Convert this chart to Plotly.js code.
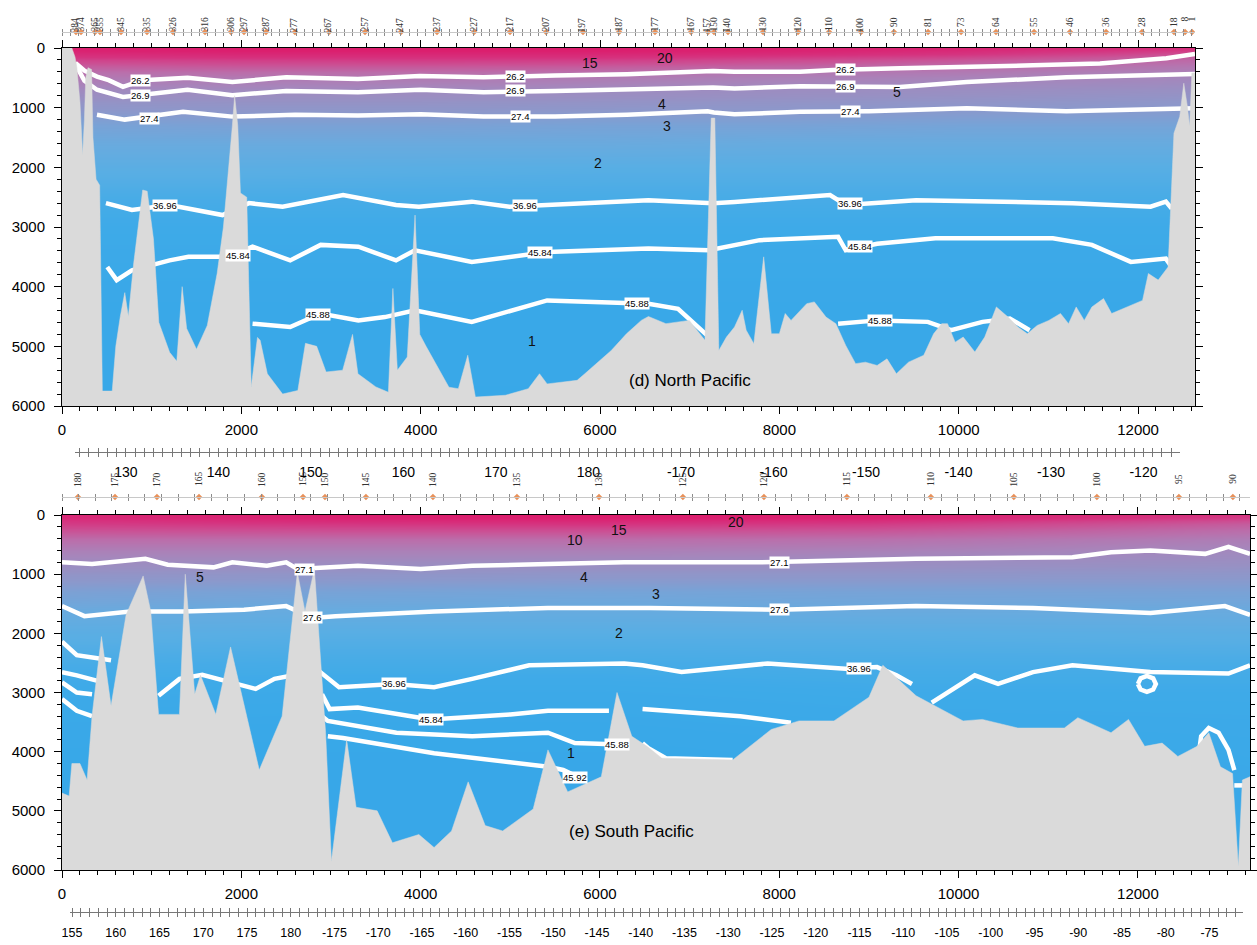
<!DOCTYPE html>
<html><head><meta charset="utf-8">
<script src="https://cdn.plot.ly/plotly-3.0.1.min.js"></script>
<style>html,body{margin:0;padding:0;background:#fff;}#chart{width:1257px;height:945px;}</style>
</head><body><div id="chart"></div>
<script>
// ---------------- DATA ----------------
// North Pacific temperature field (deg C): rows = depth (m), columns = distance (km)
const npDepth = [0, 50, 100, 150, 200, 300, 400, 500, 700, 900, 1100, 1300, 1600, 2000, 2500, 3000, 4000, 6000];
const npTempCols = [0, 2000, 4000, 6000, 8000, 10000, 12635];
const npTemp = [
  [25, 26, 26, 26, 25, 24, 21],
  [24, 25, 25, 25, 24, 22, 18],
  [22, 23, 23, 23, 22, 20, 15],
  [20, 21, 21, 21, 19, 17, 12.5],
  [17, 18, 18.5, 18, 16, 14, 11],
  [13, 14, 14, 13.5, 12, 10.5, 9],
  [10, 10.5, 10.5, 10, 9, 8.5, 7.5],
  [8.5, 8.5, 8.5, 8.2, 7.5, 7, 6.5],
  [6, 6, 6, 5.8, 5.5, 5.3, 5],
  [4.6, 4.7, 4.7, 4.6, 4.5, 4.4, 4.2],
  [3.8, 3.9, 3.9, 3.8, 3.8, 3.7, 3.6],
  [3.1, 3.2, 3.2, 3.1, 3.1, 3.0, 3.0],
  [2.6, 2.6, 2.6, 2.6, 2.5, 2.5, 2.5],
  [2.1, 2.1, 2.05, 2.0, 2.0, 2.0, 2.0],
  [1.7, 1.7, 1.7, 1.7, 1.7, 1.7, 1.7],
  [1.5, 1.5, 1.5, 1.5, 1.5, 1.5, 1.5],
  [1.25, 1.25, 1.25, 1.25, 1.25, 1.25, 1.25],
  [1.1, 1.1, 1.1, 1.1, 1.1, 1.1, 1.1]
];
// South Pacific temperature field
const spDepth = [0, 50, 100, 150, 250, 400, 600, 800, 1000, 1300, 1600, 2000, 2500, 3000, 4000, 6000];
const spTempCols = [0, 3000, 6000, 9000, 13250];
const spTemp = [
  [23, 25, 26, 25, 20],
  [22, 24, 25, 24, 18],
  [20, 22, 22.5, 21, 15],
  [18.5, 19.5, 20, 18.5, 13],
  [15, 15.5, 15.5, 14.5, 10.5],
  [10.5, 10.5, 10.5, 10, 8],
  [7.5, 7.5, 7.5, 7.2, 6.2],
  [5.8, 5.7, 5.6, 5.5, 5.2],
  [4.5, 4.4, 4.3, 4.3, 4.2],
  [3.3, 3.1, 3.0, 3.1, 3.2],
  [2.6, 2.5, 2.5, 2.6, 2.6],
  [2.1, 2.0, 2.0, 2.0, 2.1],
  [1.7, 1.65, 1.65, 1.7, 1.7],
  [1.45, 1.4, 1.4, 1.5, 1.5],
  [1.1, 1.05, 1.05, 1.2, 1.3],
  [0.95, 0.95, 0.95, 1.0, 1.1]
];

// North Pacific bottom topography (km, depth m)
const npBathyKm = [
  0, 110, 145, 165, 200, 230, 250, 265, 290, 330,
  345, 380, 420, 450, 560, 600, 650, 700, 740, 800,
  900, 950, 1020, 1080, 1200, 1280, 1340, 1390, 1500, 1620,
  1730, 1800, 1900, 1925, 1960, 1990, 2060, 2110, 2180, 2210,
  2290, 2460, 2630, 2715, 2840, 2945, 3130, 3240, 3300, 3500,
  3640, 3690, 3740, 3850, 3937, 3990, 4060, 4145, 4315, 4420,
  4525, 4610, 4945, 5200, 5325, 5410, 5745, 5830, 5955, 6125,
  6295, 6460, 6540, 6735, 6995, 7170, 7240, 7280, 7325, 7410,
  7500, 7585, 7630, 7715, 7825, 7910, 8000, 8065, 8130, 8305,
  8390, 8520, 8630, 8740, 8850, 8960, 9090, 9200, 9305, 9440,
  9610, 9720, 9810, 9875, 9960, 10050, 10180, 10290, 10420, 10550,
  10660, 10765, 10875, 11005, 11135, 11225, 11310, 11400, 11485, 11615,
  11705, 11880, 11965, 12050, 12115, 12225, 12335, 12400, 12465, 12510,
  12550, 12575, 12600, 12635];
const npBathyDepth = [
  0, 0, 150, 320, 900, 1800, 1200, 500, 330, 360,
  1500, 2200, 2300, 5750, 5750, 5000, 4500, 4100, 4500, 3600,
  2380, 2400, 3200, 4600, 5100, 5250, 4000, 4700, 5050, 4650,
  3780, 3000, 1300, 800, 1300, 2430, 2500, 5680, 4850, 4900,
  5460, 5800, 5740, 4950, 5000, 5430, 5400, 4800, 5460, 5680,
  5770, 4030, 5400, 5180, 2800, 4800, 5000, 5235, 5685, 5710,
  5150, 5850, 5820, 5710, 5460, 5630, 5570, 5460, 5290, 5070,
  4790, 4565, 4500, 4620, 4565, 4900, 1175, 1175, 5070, 4845,
  4675, 4395, 4730, 4955, 3500, 4790, 4790, 4450, 4565, 4285,
  4255, 4510, 4620, 4985, 5290, 5265, 5320, 5210, 5460, 5265,
  5150, 4790, 4620, 4620, 4930, 4845, 5095, 4845, 4340, 4510,
  4675, 4790, 4650, 4565, 4450, 4620, 4340, 4565, 4340, 4200,
  4450, 4340, 4285, 4230, 3780, 3890, 3670, 1430, 1150, 590,
  980, 1315, 420, 420];

// South Pacific bottom topography
const spBathyKm = [
  0, 80, 110, 200, 280, 335, 440, 547, 715, 905,
  990, 1077, 1310, 1375, 1480, 1545, 1715, 1880, 2200, 2455,
  2625, 2710, 2815, 2940, 3005, 3175, 3280, 3515, 3685, 3980,
  4150, 4345, 4530, 4720, 4915, 5255, 5420, 5640, 6015, 6190,
  6355, 6525, 6690, 7480, 7910, 8220, 8610, 9000, 9155, 9525,
  10050, 10265, 10660, 11180, 11330, 11700, 11895, 12075, 12270, 12445,
  12660, 12790, 12920, 13055, 13120, 13165, 13250];
const spBathyDepth = [
  4700, 4750, 4200, 4200, 4480, 3400, 2055, 3225, 1685, 1030,
  1630, 3370, 3370, 1000, 3030, 2710, 3370, 2230, 4310, 3400,
  970, 1630, 915, 3680, 5850, 3800, 4940, 5000, 5540, 5400,
  5620, 5340, 4510, 5250, 5340, 4970, 3970, 4680, 4425, 3000,
  3740, 3910, 4110, 4140, 3625, 3480, 3480, 3080, 2540, 3055,
  3480, 3455, 3600, 3600, 3425, 3680, 3455, 3910, 3855, 4080,
  3910, 3680, 4255, 4370, 5940, 4480, 4425];

// North Pacific density isolines (km, depth)
const np262Km = [150, 250, 390, 520, 680, 900, 1400, 1900, 2500, 3300, 3990, 4700, 5500, 6300, 7260, 7500, 8230, 8600, 9345, 10090, 10830, 11575, 11945, 12316, 12635];
const np262D  = [250, 380, 480, 540, 650, 540, 500, 570, 490, 520, 470, 490, 460, 440, 385, 400, 400, 370, 340, 320, 290, 260, 220, 170, 100];
const np269Km = [160, 250, 390, 680, 1400, 1900, 2500, 3300, 4000, 4700, 5500, 6300, 7260, 7500, 8230, 9345, 10090, 11200, 11945, 12635];
const np269D  = [300, 550, 700, 820, 700, 790, 720, 740, 700, 740, 720, 690, 660, 680, 640, 655, 570, 490, 470, 435];
const np274Km = [390, 700, 1350, 1900, 2600, 3300, 4000, 4700, 5500, 6300, 7200, 7270, 7500, 8230, 9000, 10090, 11200, 12000, 12635];
const np274D  = [1120, 1200, 1070, 1150, 1120, 1130, 1110, 1150, 1150, 1120, 1060, 1080, 1110, 1070, 1060, 1010, 1060, 1040, 1010];
const np3696Km = [490, 780, 1200, 1790, 2085, 2460, 3135, 3725, 3980, 4570, 4990, 5500, 6540, 7260, 7500, 8565, 8740, 9525, 10400, 11270, 12140, 12310, 12375];
const np3696D  = [2600, 2715, 2630, 2800, 2600, 2660, 2465, 2630, 2660, 2575, 2660, 2620, 2550, 2600, 2580, 2465, 2630, 2550, 2575, 2600, 2660, 2575, 2690];
const np4584Km = [505, 610, 780, 1200, 1410, 1845, 2125, 2545, 2885, 3305, 3725, 3935, 4570, 5410, 6540, 7215, 7780, 8655, 8740, 9090, 9740, 11050, 11485, 11920, 12310, 12375];
const np4584D  = [3670, 3890, 3725, 3560, 3500, 3500, 3330, 3560, 3300, 3330, 3560, 3390, 3585, 3420, 3360, 3390, 3220, 3165, 3390, 3280, 3190, 3190, 3300, 3585, 3530, 3670];
const np4588aKm = [2125, 2545, 2885, 3305, 3600, 3935, 4570, 5410, 6540, 6870, 7195];
const np4588aD  = [4620, 4675, 4450, 4565, 4510, 4395, 4590, 4230, 4285, 4370, 4815];
const np4588bKm = [8655, 9090, 9655, 9915, 10265, 10570, 10790];
const np4588bD  = [4620, 4565, 4590, 4730, 4590, 4535, 4730];

// South Pacific density isolines
const sp271Km = [0, 335, 930, 1180, 1690, 1900, 2285, 2500, 2625, 2880, 3300, 4000, 4575, 5420, 6270, 7780, 9525, 11270, 11700, 12140, 12750, 13010, 13250];
const sp271D  = [800, 830, 740, 840, 885, 800, 857, 800, 913, 885, 857, 913, 857, 830, 800, 800, 740, 714, 630, 600, 657, 540, 657];
const sp276Km = [0, 250, 760, 1350, 2030, 2500, 2795, 3050, 4150, 5420, 6560, 8000, 9525, 10830, 12140, 12970, 13250];
const sp276D  = [1540, 1710, 1630, 1630, 1600, 1540, 1740, 1710, 1630, 1570, 1570, 1600, 1540, 1570, 1655, 1540, 1690];
const sp3696aKm = [0, 165, 547];
const sp3696aD  = [2140, 2370, 2455];
const sp3696bKm = [1077, 1310, 1565, 2160, 2370, 2580, 2880, 3090, 3705, 4150, 4575, 5210, 6270, 6475, 6910, 7870, 8740, 9090, 9307, 9480];
const sp3696bD  = [3055, 2770, 2700, 2940, 2770, 2710, 2655, 2910, 2855, 2910, 2770, 2540, 2510, 2540, 2655, 2510, 2600, 2570, 2710, 2855];
const sp3696cKm = [9700, 10180, 10440, 10830, 11270, 12140, 13010, 13250];
const sp3696cD  = [3170, 2710, 2855, 2655, 2540, 2655, 2680, 2540];
const sp3696loopKm = [12000, 12030, 12100, 12170, 12200, 12170, 12100, 12030, 12000];
const sp3696loopD  = [2855, 2760, 2720, 2760, 2855, 2950, 2990, 2950, 2855];
const sp4584aKm = [0, 165, 460];
const sp4584aD  = [2655, 2710, 2830];
const sp4584bKm = [2900, 2985, 3300, 4110, 5000, 5420, 6100];
const sp4584bD  = [3030, 3280, 3255, 3455, 3370, 3310, 3310];
const sp4584cKm = [6475, 7565, 8130];
const sp4584cD  = [3280, 3400, 3510];
const sp4588aKm = [0, 165, 335];
const sp4588aD  = [2830, 3000, 3030];
const sp4588bKm = [2900, 2965, 3730, 4575, 5420, 5720, 5975, 6190];
const sp4588bD  = [3400, 3480, 3680, 3740, 3680, 3855, 3865, 3880];
const sp4588cKm = [6475, 6540, 6735, 7480];
const sp4588cD  = [3855, 3940, 4110, 4140];
const sp4588dKm = [12660, 12705, 12790, 12900, 13010, 13075];
const sp4588dD  = [4255, 3740, 3600, 3680, 3970, 4310];
const sp4592aKm = [0, 165, 335];
const sp4592aD  = [3110, 3310, 3400];
const sp4592bKm = [2965, 3135, 4150, 5000, 5420, 5590, 5825];
const sp4592bD  = [3740, 3770, 4025, 4170, 4255, 4310, 4480];
const sp4592cKm = [13075, 13250];
const sp4592cD  = [4570, 4570];

// Isoline labels
const npLabelKm    = [870, 5052, 8732, 870, 5052, 8732, 981, 5108, 8788, 1149, 5163, 8788, 1963, 5331, 8899, 2855, 6412, 9122];
const npLabelDepth = [540, 470, 360, 790, 720, 640, 1180, 1150, 1060, 2640, 2640, 2600, 3480, 3420, 3330, 4470, 4280, 4565];
const npLabelText  = ['26.2','26.2','26.2','26.9','26.9','26.9','27.4','27.4','27.4','36.96','36.96','36.96','45.84','45.84','45.84','45.88','45.88','45.88'];
const spLabelKm    = [2710, 8000, 2795, 8000, 3705, 8893, 4110, 6190, 5720];
const spLabelDepth = [914, 800, 1740, 1600, 2855, 2600, 3455, 3883, 4437];
const spLabelText  = ['27.1','27.1','27.6','27.6','36.96','36.96','45.84','45.88','45.92'];
// Isotherm labels
const npTLabelKm    = [5888, 6725, 9312, 6691, 6747, 5977, 5241];
const npTLabelDepth = [251, 168, 737, 938, 1307, 1927, 4910];
const npTLabelText  = ['15','20','5','4','3','2','1'];
const spTLabelKm    = [7520, 6210, 5720, 1543, 5826, 6628, 6210, 5677];
const spTLabelDepth = [115, 257, 417, 1056, 1045, 1330, 2000, 4025];
const spTLabelText  = ['20','15','10','5','4','3','2','1'];

// Stations
const npStationKm = [156, 212, 368, 424, 658, 948, 1238, 1595, 1885, 2030, 2275, 2598, 2977, 3379, 3780, 4182, 4595, 4996, 5398, 5810, 6212, 6613, 7015, 7204, 7271, 7427, 7818, 8208, 8554, 8910, 9278, 9658, 10026, 10416, 10840, 11241, 11643, 12044, 12401, 12524, 12602];
const npStationNo = ['384','374','365','355','345','335','326','316','306','297','287','277','267','257','247','237','227','217','207','197','187','177','167','157','150','140','130','120','110','100','90','81','73','64','55','46','36','28','18','8','1'];
const spStationKm = [178, 591, 1059, 1528, 2230, 2688, 2933, 3390, 4137, 5074, 5989, 6925, 7829, 8754, 9691, 10616, 11542, 12457, 13059];
const spStationNo = ['180','175','170','165','160','155','150','145','140','135','130','125','120','115','110','105','100','95','90'];

// Longitude ticks
const npLonVals = [130, 140, 150, 160, 170, 180, 190, 200, 210, 220, 230, 240];
const npLonText = ['130','140','150','160','170','180','-170','-160','-150','-140','-130','-120'];
const spLonVals = [155, 160, 165, 170, 175, 180, 185, 190, 195, 200, 205, 210, 215, 220, 225, 230, 235, 240, 245, 250, 255, 260, 265, 270, 275, 280, 285];
const spLonText = ['155','160','165','170','175','180','-175','-170','-165','-160','-155','-150','-145','-140','-135','-130','-125','-120','-115','-110','-105','-100','-95','-90','-85','-80','-75'];

// ---------------- PLOT ----------------
const F = '"Liberation Sans", Arial, Helvetica, sans-serif';
const FS = '"Liberation Serif", "Times New Roman", serif';
const W = 1257, H = 945;
const px = v => v / W;
const py = v => 1 - v / H;

const tempScale = [
  [0.000, 'rgb(55,167,232)'],
  [0.012, 'rgb(57,168,232)'],
  [0.024, 'rgb(62,170,232)'],
  [0.044, 'rgb(88,174,228)'],
  [0.064, 'rgb(103,171,223)'],
  [0.084, 'rgb(117,164,216)'],
  [0.124, 'rgb(140,152,203)'],
  [0.163, 'rgb(152,144,195)'],
  [0.243, 'rgb(168,132,186)'],
  [0.363, 'rgb(185,112,172)'],
  [0.562, 'rgb(203,80,148)'],
  [0.761, 'rgb(213,52,128)'],
  [1.000, 'rgb(220,28,108)']
];

const traces = [];
traces.push({type:'heatmap', x:npTempCols, y:npDepth, z:npTemp, xaxis:'x', yaxis:'y', colorscale:tempScale, zmin:0.9, zmax:26, zsmooth:'best', showscale:false, hoverinfo:'skip'});
traces.push({type:'heatmap', x:spTempCols, y:spDepth, z:spTemp, xaxis:'x2', yaxis:'y2', colorscale:tempScale, zmin:0.9, zmax:26, zsmooth:'best', showscale:false, hoverinfo:'skip'});

function iso(xs, ys, xa, ya) {
  traces.push({type:'scatter', mode:'lines', x:xs, y:ys, xaxis:xa, yaxis:ya,
    line:{color:'#ffffff', width:4.5, shape:'linear'}, hoverinfo:'skip', showlegend:false});
}
iso(np262Km, np262D, 'x', 'y');
iso(np269Km, np269D, 'x', 'y');
iso(np274Km, np274D, 'x', 'y');
iso(np3696Km, np3696D, 'x', 'y');
iso(np4584Km, np4584D, 'x', 'y');
iso(np4588aKm, np4588aD, 'x', 'y');
iso(np4588bKm, np4588bD, 'x', 'y');

iso(sp271Km, sp271D, 'x2', 'y2');
iso(sp276Km, sp276D, 'x2', 'y2');
iso(sp3696aKm, sp3696aD, 'x2', 'y2');
iso(sp3696bKm, sp3696bD, 'x2', 'y2');
iso(sp3696cKm, sp3696cD, 'x2', 'y2');
iso(sp3696loopKm, sp3696loopD, 'x2', 'y2');
iso(sp4584aKm, sp4584aD, 'x2', 'y2');
iso(sp4584bKm, sp4584bD, 'x2', 'y2');
iso(sp4584cKm, sp4584cD, 'x2', 'y2');
iso(sp4588aKm, sp4588aD, 'x2', 'y2');
iso(sp4588bKm, sp4588bD, 'x2', 'y2');
iso(sp4588cKm, sp4588cD, 'x2', 'y2');
iso(sp4588dKm, sp4588dD, 'x2', 'y2');
iso(sp4592aKm, sp4592aD, 'x2', 'y2');
iso(sp4592bKm, sp4592bD, 'x2', 'y2');
iso(sp4592cKm, sp4592cD, 'x2', 'y2');

function bathy(xs, ys, xa, ya) {
  const xmax = xs[xs.length - 1];
  traces.push({type:'scatter', mode:'lines', x:xs.concat([xmax, 0]), y:ys.concat([6000, 6000]),
    fill:'toself', fillcolor:'rgb(218,218,218)', line:{width:0.5, color:'rgb(218,218,218)'},
    xaxis:xa, yaxis:ya, hoverinfo:'skip', showlegend:false});
}
bathy(npBathyKm, npBathyDepth, 'x', 'y');
bathy(spBathyKm, spBathyDepth, 'x2', 'y2');

// station markers
traces.push({type:'scatter', mode:'markers', x:npStationKm, y:npStationKm.map(() => 0.5), xaxis:'x', yaxis:'y3',
  marker:{symbol:'diamond', size:5, color:'rgb(232,145,90)'}, hoverinfo:'skip', showlegend:false});
traces.push({type:'scatter', mode:'markers', x:spStationKm, y:spStationKm.map(() => 0.5), xaxis:'x2', yaxis:'y4',
  marker:{symbol:'diamond', size:5, color:'rgb(232,145,90)'}, hoverinfo:'skip', showlegend:false});
// empty traces that attach decoration axes to their strips
[['x3','y5'],['x4','y5'],['x5','y6'],['x6','y6'],['x7','y3'],['x8','y3'],['x9','y4'],['x10','y4']].forEach(p => {
  traces.push({type:'scatter', mode:'markers', x:[null], y:[null], xaxis:p[0], yaxis:p[1], hoverinfo:'skip', showlegend:false});
});

const annotations = [];
function isoLabels(kms, ds, ts, xa, ya) {
  kms.forEach((k, i) => annotations.push({x:k, y:ds[i], xref:xa, yref:ya, text:ts[i], showarrow:false,
    font:{family:F, size:9.5, color:'#000'}, bgcolor:'#ffffff', borderpad:0}));
}
function tLabels(kms, ds, ts, xa, ya) {
  kms.forEach((k, i) => annotations.push({x:k, y:ds[i], xref:xa, yref:ya, text:ts[i], showarrow:false,
    font:{family:F, size:14, color:'#111'}}));
}
isoLabels(npLabelKm, npLabelDepth, npLabelText, 'x', 'y');
isoLabels(spLabelKm, spLabelDepth, spLabelText, 'x2', 'y2');
tLabels(npTLabelKm, npTLabelDepth, npTLabelText, 'x', 'y');
tLabels(spTLabelKm, spTLabelDepth, spTLabelText, 'x2', 'y2');
annotations.push({x:7000, y:5570, xref:'x', yref:'y', text:'(d) North Pacific', showarrow:false, font:{family:F, size:17, color:'#000'}});
annotations.push({x:6350, y:5350, xref:'x2', yref:'y2', text:'(e) South Pacific', showarrow:false, font:{family:F, size:17, color:'#000'}});
npStationKm.forEach((k, i) => annotations.push({x:k, y:py(15), xref:'x', yref:'paper', text:npStationNo[i], textangle:-90,
  showarrow:false, font:{family:FS, size:9.5, color:'#333'}}));
spStationKm.forEach((k, i) => annotations.push({x:k, y:py(479), xref:'x2', yref:'paper', text:spStationNo[i], textangle:-90,
  showarrow:false, font:{family:FS, size:9.5, color:'#333'}}));

const axBase = {showgrid:false, zeroline:false, showline:true, linecolor:'#000', linewidth:1,
  ticks:'outside', ticklen:7, tickwidth:1, tickcolor:'#000', mirror:'ticks', fixedrange:true,
  tickfont:{family:F, size:15, color:'#000'}, tickformat:'d'};
const minorX = {ticks:'outside', ticklen:4, tickcolor:'#000', tickwidth:1, dtick:200, tick0:0};
const minorY = {ticks:'outside', ticklen:4, tickcolor:'#000', tickwidth:1, dtick:200, tick0:0};

const xTop = [px(62), px(1195)], xBot = [px(62), px(1250)];
const rTop = [0, 12635], rBot = [0, 13250];

const lonBase = {showgrid:false, zeroline:false, showline:true, linecolor:'#777', linewidth:1,
  ticks:'outside', ticklen:4, tickcolor:'#777', tickwidth:1, tickmode:'array', fixedrange:true,
  minor:{dtick:1, tick0:0, ticks:'outside', ticklen:4, tickcolor:'#777', tickwidth:1}};
const rowBase = {showgrid:false, zeroline:false, showline:true, linecolor:'rgb(200,200,200)', linewidth:1,
  ticks:'outside', ticklen:3, tickcolor:'rgb(140,140,140)', tickwidth:1, showticklabels:false, fixedrange:true, tick0:0};
const hidden = {visible:false, range:[0, 1], fixedrange:true};

const layout = {
  width:W, height:H, margin:{l:0, r:0, t:0, b:0},
  paper_bgcolor:'#ffffff', plot_bgcolor:'rgba(0,0,0,0)', showlegend:false,
  xaxis: Object.assign({}, axBase, {domain:xTop, range:rTop, anchor:'y', tick0:0, dtick:2000, minor:minorX, ticklabelstandoff:3}),
  yaxis: Object.assign({}, axBase, {domain:[py(406), py(48)], range:[6000, 0], anchor:'x', tick0:0, dtick:1000, minor:minorY, ticklabelstandoff:6}),
  xaxis2: Object.assign({}, axBase, {domain:xBot, range:rBot, anchor:'y2', tick0:0, dtick:2000, minor:minorX, ticklabelstandoff:3}),
  yaxis2: Object.assign({}, axBase, {domain:[py(870), py(515)], range:[6000, 0], anchor:'x2', tick0:0, dtick:1000, minor:minorY, ticklabelstandoff:6}),
  yaxis3: Object.assign({}, hidden, {domain:[py(40), py(24)]}),
  yaxis4: Object.assign({}, hidden, {domain:[py(505), py(489)]}),
  yaxis5: Object.assign({}, hidden, {domain:[py(456), py(448)]}),
  yaxis6: Object.assign({}, hidden, {domain:[py(916), py(908)]}),
  xaxis3: Object.assign({}, lonBase, {domain:[px(75), px(1180)], range:[124.49, 243.95], anchor:'free', position:py(452), side:'bottom',
    tickvals:npLonVals, ticktext:npLonText, tickfont:{family:F, size:14, color:'#000'}, ticklabelstandoff:3}),
  xaxis4: Object.assign({}, lonBase, {domain:[px(75), px(1180)], range:[124.49, 243.95], anchor:'free', position:py(452), side:'top',
    tickvals:npLonVals, showticklabels:false, showline:false}),
  xaxis5: Object.assign({}, lonBase, {domain:[px(70), px(1243)], range:[154.77, 288.83], anchor:'free', position:py(912), side:'bottom',
    tickvals:spLonVals, ticktext:spLonText, tickfont:{family:F, size:12.5, color:'#000'}, ticklabelstandoff:5}),
  xaxis6: Object.assign({}, lonBase, {domain:[px(70), px(1243)], range:[154.77, 288.83], anchor:'free', position:py(912), side:'top',
    tickvals:spLonVals, showticklabels:false, showline:false}),
  xaxis7: Object.assign({}, rowBase, {domain:xTop, range:rTop, anchor:'free', position:py(32), side:'bottom', dtick:90}),
  xaxis8: Object.assign({}, rowBase, {domain:xTop, range:rTop, anchor:'free', position:py(32), side:'top', dtick:90, showline:false}),
  xaxis9: Object.assign({}, rowBase, {domain:xBot, range:rBot, anchor:'free', position:py(497), side:'bottom', dtick:185}),
  xaxis10: Object.assign({}, rowBase, {domain:xBot, range:rBot, anchor:'free', position:py(497), side:'top', dtick:185, showline:false}),
  annotations: annotations
};

Plotly.newPlot('chart', traces, layout, {displayModeBar:false, staticPlot:true});
</script></body></html>
